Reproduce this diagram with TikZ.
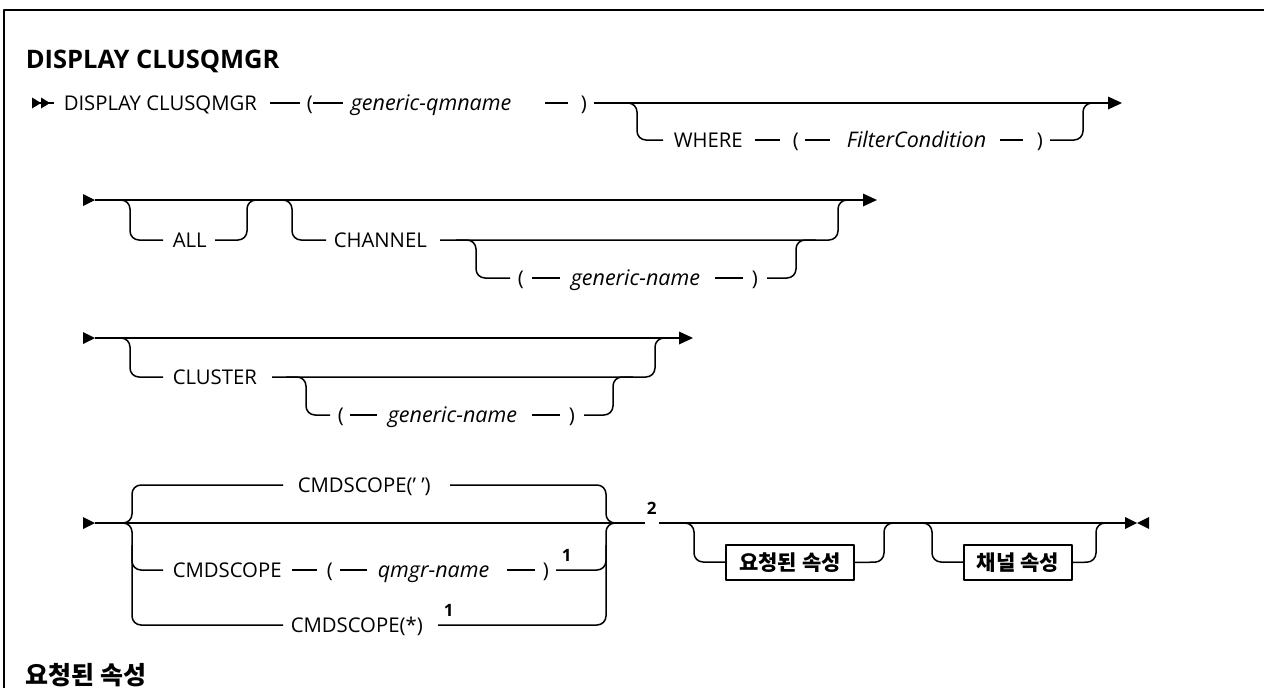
\documentclass[tikz,border=0pt]{standalone}
\usepackage{fontspec}
\setmainfont{Open Sans}
\newfontfamily\kr{Noto Sans CJK KR}
\begin{document}
\begin{tikzpicture}[x=1pt,y=-1pt,line width=1.5pt,line join=round,
  rail/.style={rounded corners=9pt},
  tok/.style={anchor=base west,inner sep=0pt,font=\fontsize{20.3}{24}\selectfont},
  var/.style={anchor=base west,inner sep=0pt,font=\fontsize{21.5}{25}\selectfont\itshape},
  fnote/.style={anchor=base west,inner sep=0pt,font=\fontsize{17}{20}\selectfont\bfseries},
  ttl/.style={anchor=base west,inner sep=0pt,font=\fontsize{25.5}{30}\selectfont\bfseries},
  krttl/.style={anchor=base west,inner sep=0pt,font=\kr\bfseries\fontsize{25}{30}\selectfont},
  krbox/.style={draw,line width=1.6pt,inner sep=0pt,minimum height=35pt,font=\kr\bfseries\fontsize{21}{24}\selectfont}]
\useasboundingbox (0,0) rectangle (1264,688);
\clip (0,0) rectangle (1264,688);
% frame
\draw[line width=2.2pt] (4,700) -- (4,10) -- (1270,10);
% title
\node[ttl] (title) at (25,68) {DISPLAY CLUSQMGR};
% ---------- row 1 ----------
\fill (32,97.5) -- (41,103) -- (32,108.5) -- cycle;
\fill (41,97.5) -- (50,103) -- (41,108.5) -- cycle;
\draw (32,103) -- (54,103);
\node[tok] (disp) at (63,110) {DISPLAY CLUSQMGR};
\draw (270,103) -- (300,103);
\node[tok] (lpa) at (306,110) {(};
\draw (313,103) -- (343,103);
\node[var] (gqm) at (350,110) {generic-qmname};
\draw (545,103) -- (568,103);
\node[tok] (rpa) at (580,110) {)};
\draw (594,103) -- (1109,103);
\fill (1108,96.5) -- (1122,103) -- (1108,109.5) -- cycle;
\draw[rail] (612,103) -- (637,103) -- (637,140) -- (663,140);
\node[tok] (where) at (673,147) {WHERE};
\draw (755,140) -- (780,140);
\node[tok] (lpb) at (792,147) {(};
\draw (805,140) -- (830,140);
\node[var] (fcond) at (846,147) {FilterCondition};
\draw (1000,140) -- (1023,140);
\node[tok] (rpb) at (1036,147) {)};
\draw[rail] (1050,140) -- (1083,140) -- (1083,103) -- (1100,103);
% ---------- row 2 ----------
\fill (83,194) -- (95,200) -- (83,206) -- cycle;
\draw (95,200) -- (864,200);
\fill (863,193.5) -- (877,200) -- (863,206.5) -- cycle;
\draw[rail] (110,200) -- (130,200) -- (130,240) -- (163,240);
\node[tok] (all) at (172,247) {ALL};
\draw[rail] (215,240) -- (247,240) -- (247,200) -- (267,200);
\draw[rail] (272,200) -- (292,200) -- (292,240) -- (326,240);
\node[tok] (chan) at (333,247) {CHANNEL};
\draw[rail] (440,240) -- (838,240) -- (838,200) -- (858,200);
\draw[rail] (456,240) -- (476,240) -- (476,278) -- (510,278);
\node[tok] (lpc) at (517,285) {(};
\draw (532,278) -- (560,278);
\node[var] (gna) at (570,285) {generic-name};
\draw (715,278) -- (743,278);
\node[tok] (rpc) at (751,285) {)};
\draw[rail] (767,278) -- (796,278) -- (796,240) -- (816,240);
% ---------- row 3 ----------
\fill (83,332) -- (95,338) -- (83,344) -- cycle;
\draw (95,338) -- (680,338);
\fill (679,331.5) -- (693,338) -- (679,344.5) -- cycle;
\draw[rail] (110,338) -- (130,338) -- (130,377) -- (163,377);
\node[tok] (clus) at (172,384) {CLUSTER};
\draw[rail] (272,377) -- (655,377) -- (655,338) -- (675,338);
\draw[rail] (286,377) -- (306,377) -- (306,415) -- (330,415);
\node[tok] (lpd) at (337,422) {(};
\draw (350,415) -- (377,415);
\node[var] (gnb) at (387,422) {generic-name};
\draw (532,415) -- (560,415);
\node[tok] (rpd) at (568,422) {)};
\draw[rail] (584,415) -- (613,415) -- (613,377) -- (633,377);
% ---------- row 4 ----------
\fill (83,517) -- (95,523) -- (83,529) -- cycle;
\draw (95,523) -- (645,523);
\draw (659,523) -- (1125,523);
\draw[rail] (110,523) -- (132,523) -- (132,485) -- (283,485);
\draw[rail] (110,523) -- (132,523) -- (132,625) -- (283,625);
\draw[rail] (132,545) -- (132,570) -- (163,570);
\node[tok] (csq) at (297,492) {CMDSCOPE(' ')};
\draw[rail] (450,485) -- (606,485) -- (606,523) -- (626,523);
\node[tok] (csa) at (172,577) {CMDSCOPE};
\draw (292,570) -- (317,570);
\node[tok] (lpe) at (326,577) {(};
\draw (340,570) -- (367,570);
\node[var] (qmn) at (377,577) {qmgr-name};
\draw (507,570) -- (535,570);
\node[tok] (rpe) at (542,577) {)};
\node[fnote] (fa) at (561,561) {1};
\draw[rail] (556,570) -- (606,570) -- (606,545);
\node[tok] (css) at (290,632) {CMDSCOPE(*)};
\node[fnote] (fb) at (443,616) {1};
\draw[rail] (438,625) -- (606,625) -- (606,523) -- (626,523);
\node[fnote] (fc) at (646,514) {2};
% optional boxes
\draw[rail] (670,523) -- (694,523) -- (694,562) -- (726,562);
\node[krbox,minimum width=128pt] (reqa) at (790,562.5) {요청된 속성};
\draw[rail] (reqa.east) -- (884,562) -- (884,523) -- (904,523);
\draw[rail] (912,523) -- (932,523) -- (932,562) -- (964,562);
\node[krbox,minimum width=108pt] (chna) at (1018,562.5) {채널 속성};
\draw[rail] (chna.east) -- (1096,562) -- (1096,523) -- (1116,523);
\fill (1125,517) -- (1137,523) -- (1125,529) -- cycle;
\fill (1149,517) -- (1137,523) -- (1149,529) -- cycle;
% bottom title
\node[krttl] (sub) at (25,684) {요청된 속성};
\end{tikzpicture}
\end{document}
